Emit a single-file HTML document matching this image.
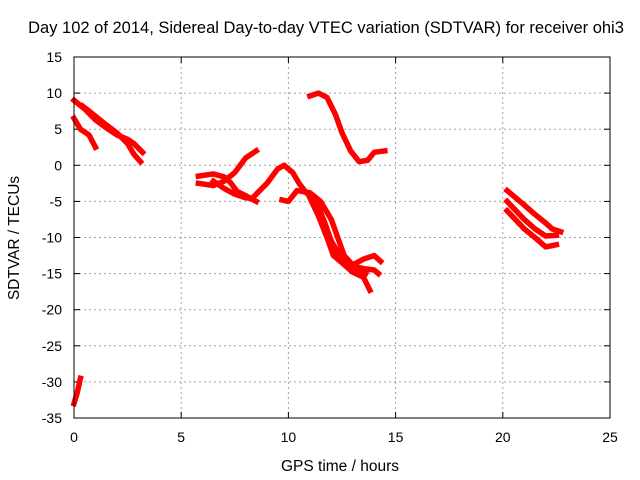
<!DOCTYPE html>
<html><head><meta charset="utf-8"><style>
body{margin:0;background:#fff}
svg{display:block;font-family:"Liberation Sans",sans-serif;font-size:14px}
</style></head><body>
<svg id="chart" width="640" height="480" xmlns="http://www.w3.org/2000/svg">
<text x="326" y="33" text-anchor="middle" style="font-size:16.5px">Day 102 of 2014, Sidereal Day-to-day VTEC variation (SDTVAR) for receiver ohi3</text>
<text x="340" y="471" text-anchor="middle" style="font-size:15.5px">GPS time / hours</text>
<text transform="translate(19,238) rotate(-90)" text-anchor="middle" style="font-size:15.5px">SDTVAR / TECUs</text>
<g id="grid"></g>
<g id="ticks"></g>
<g id="series"></g>
<rect x="74" y="57" width="536" height="361" fill="none" stroke="#000" stroke-width="1"/>
</svg>
<script>
const xTicks=[0,5,10,15,20,25];
const yTicks=[15,10,5,0,-5,-10,-15,-20,-25,-30,-35];
const track1=[[0,9],[0.5,7.8],[1,6.3],[1.5,5.2],[2,4.2],[2.5,3.6],[2.8,3],[3.2,1.8]];
const track2=[[0.4,8.2],[1,6.8],[1.5,5.6],[2,4.5],[2.5,3],[2.8,1.5],[3.1,0.5]];
const track3=[[0,6.5],[0.3,5],[0.7,4.2],[1,2.5]];
const track4=[[5.8,-1.5],[6.5,-1.2],[7,-1.6],[7.3,-2.4],[7.6,-3.6],[8,-4.2],[8.5,-5]];
const track5=[[5.8,-2.5],[6.5,-2.8],[7,-2.2],[7.5,-1],[8,1],[8.5,2]];
const track6=[[6.5,-2.2],[7,-3.2],[7.5,-4],[8,-4.5],[8.3,-4.6],[9,-2.5],[9.5,-0.5],[9.8,0],[10.2,-1],[10.5,-2.5],[10.8,-3.7],[11.3,-5],[11.7,-8],[12,-10.5],[12.5,-13],[12.8,-14],[13.3,-14.5],[13.6,-15]];
const track7=[[9.7,-4.8],[10,-5],[10.4,-3.5],[11,-3.8],[11.5,-5],[12,-7.5],[12.3,-10],[12.6,-12.5],[13,-13.8],[13.5,-13],[14,-12.5],[14.3,-13.3]];
const track8=[[11,-4.5],[11.4,-7],[11.8,-10],[12.1,-12.5],[12.5,-13.5],[13,-14.8],[13.5,-15.5],[13.8,-17.3]];
const track9=[[13,-14],[13.5,-14.3],[14,-14.5],[14.2,-15]];
const track10=[[11,9.6],[11.4,10],[11.8,9.4],[12.2,7],[12.5,4.5],[12.9,2],[13.3,0.5],[13.7,0.7],[14,1.8],[14.5,2]];
const track11=[[20.2,-3.5],[21,-5.5],[21.5,-6.8],[22,-8],[22.3,-8.8],[22.7,-9.2]];
const track12=[[20.2,-5],[21,-7.5],[21.5,-8.8],[22,-9.8],[22.5,-9.7]];
const track13=[[20.2,-6.3],[21,-8.8],[21.5,-10],[22,-11.3],[22.5,-11]];
const track14=[[0,-33],[0.15,-31.5],[0.3,-29.5]];
const tracks=[track1,track2,track3,track4,track5,track6,track7,track8,track9,track10,track11,track12,track13,track14];
const NS="http://www.w3.org/2000/svg";
const X0=74,X1=610,Y0=418,Y1=57;
const sx=v=>X0+(v-0)/(25-0)*(X1-X0);
const sy=v=>Y0-(v+35)/(50)*(Y0-Y1);
const grid=document.getElementById('grid'),ticks=document.getElementById('ticks'),ser=document.getElementById('series');
function mk(t,a,p){const e=document.createElementNS(NS,t);for(const k in a)e.setAttribute(k,a[k]);p.appendChild(e);return e;}
xTicks.forEach(v=>{const x=sx(v);
 if(v>0&&v<25){const g=mk('line',{x1:x,x2:x,y1:Y1,y2:Y0,stroke:'#a0a0a0','stroke-dasharray':'2,3'},grid);}
 mk('line',{x1:x,x2:x,y1:Y0,y2:Y0-6,stroke:'#000'},ticks);mk('line',{x1:x,x2:x,y1:Y1,y2:Y1+6,stroke:'#000'},ticks);
 const t=mk('text',{x:x,y:Y0+24,'text-anchor':'middle'},ticks);t.textContent=v;
 });
yTicks.forEach(v=>{const y=sy(v);
 if(v<15&&v>-35){const g=mk('line',{x1:X0,x2:X1,y1:y,y2:y,stroke:'#a0a0a0','stroke-dasharray':'2,3'},grid);}
 mk('line',{x1:X0,x2:X0+6,y1:y,y2:y,stroke:'#000'},ticks);mk('line',{x1:X1,x2:X1-6,y1:y,y2:y,stroke:'#000'},ticks);
 const t=mk('text',{x:X0-12,y:y+5,'text-anchor':'end'},ticks);t.textContent=v;
 });
tracks.forEach(tr=>{const p=mk('polyline',{points:tr.map(d=>sx(d[0])+','+sy(d[1])).join(' '),fill:'none',stroke:'#ff0000','stroke-width':5.5,'stroke-linejoin':'round','stroke-linecap':'square'},ser);
 
 });
</script>
</body></html>
